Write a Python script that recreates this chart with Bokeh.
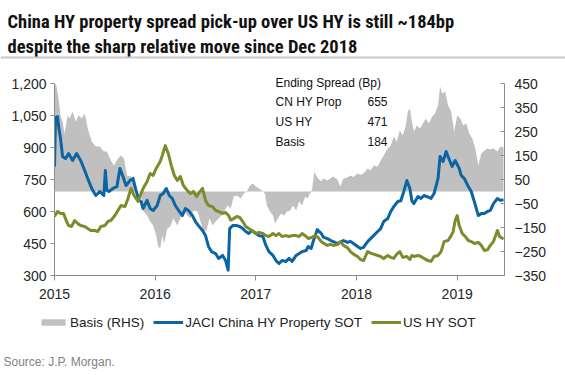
import glob
import os
import subprocess

from bokeh.plotting import figure
from bokeh.layouts import column
from bokeh.models import (Range1d, LinearAxis, FixedTicker, NumeralTickFormatter,
                          Legend, LegendItem, ColumnDataSource)
from bokeh.core.properties import value
from bokeh.embed import file_html
from bokeh.resources import INLINE

# ---------------- data ----------------
cn_t = [2015.00, 2015.01, 2015.03, 2015.045, 2015.06, 2015.08, 2015.11, 2015.14, 2015.18, 2015.22,
        2015.26, 2015.30, 2015.33, 2015.37, 2015.41, 2015.45, 2015.49, 2015.505, 2015.52, 2015.54,
        2015.58, 2015.62, 2015.65, 2015.68, 2015.71, 2015.75, 2015.78, 2015.81, 2015.84, 2015.86,
        2015.88, 2015.92, 2015.95, 2015.98, 2016.02, 2016.05, 2016.08, 2016.11, 2016.14, 2016.17,
        2016.20, 2016.24, 2016.27, 2016.30, 2016.33, 2016.37, 2016.40, 2016.43, 2016.47, 2016.50,
        2016.53, 2016.56, 2016.60, 2016.63, 2016.67, 2016.70, 2016.725, 2016.74, 2016.77, 2016.81,
        2016.84, 2016.87, 2016.90, 2016.93, 2016.96, 2017.00, 2017.03, 2017.07, 2017.10, 2017.13,
        2017.17, 2017.20, 2017.23, 2017.26, 2017.30, 2017.33, 2017.36, 2017.40, 2017.43, 2017.46,
        2017.50, 2017.52, 2017.55, 2017.57, 2017.59, 2017.61, 2017.63, 2017.65, 2017.67, 2017.71,
        2017.74, 2017.77, 2017.81, 2017.84, 2017.87, 2017.91, 2017.94, 2017.97, 2018.01, 2018.04,
        2018.07, 2018.11, 2018.14, 2018.17, 2018.21, 2018.24, 2018.27, 2018.31, 2018.34, 2018.37,
        2018.41, 2018.44, 2018.47, 2018.50, 2018.53, 2018.55, 2018.57, 2018.61, 2018.64, 2018.67,
        2018.71, 2018.74, 2018.77, 2018.81, 2018.83, 2018.86, 2018.89, 2018.92, 2018.95, 2018.98,
        2019.02, 2019.04, 2019.07, 2019.11, 2019.14, 2019.17, 2019.21, 2019.24, 2019.27, 2019.30,
        2019.33, 2019.36, 2019.40, 2019.43, 2019.46]
cn_v = [810, 1040, 1045, 985, 942, 858, 848, 872, 839, 872,
        839, 792, 755, 708, 675, 694, 675, 792, 700, 694,
        708, 717, 802, 764, 722, 745, 755, 698, 652, 647,
        614, 652, 614, 605, 628, 675, 684, 708, 675, 661,
        628, 600, 581, 614, 605, 581, 553, 534, 511, 487,
        436, 412, 403, 380, 394, 370, 325, 520, 534, 534,
        530, 520, 506, 497, 511, 497, 487, 483, 441, 412,
        394, 370, 356, 370, 366, 380, 366, 394, 403, 412,
        417, 436, 427, 460, 487, 515, 505, 497, 480, 473,
        465, 459, 450, 455, 464, 455, 460, 450, 436, 427,
        432, 459, 473, 487, 506, 520, 553, 567, 600, 623,
        647, 650, 694, 745, 708, 650, 637, 670, 661, 675,
        668, 661, 684, 755, 858, 834, 881, 845, 811, 839,
        802, 769, 755, 717, 694, 647, 581, 591, 591, 600,
        605, 637, 661, 652, 655]

us_t = [2015.00, 2015.03, 2015.06, 2015.09, 2015.12, 2015.14, 2015.17, 2015.20, 2015.23, 2015.26,
        2015.30, 2015.33, 2015.36, 2015.40, 2015.43, 2015.46, 2015.50, 2015.53, 2015.56, 2015.60,
        2015.63, 2015.66, 2015.70, 2015.73, 2015.76, 2015.79, 2015.83, 2015.85, 2015.88, 2015.92,
        2015.95, 2015.98, 2016.01, 2016.05, 2016.07, 2016.10, 2016.13, 2016.16, 2016.19, 2016.22,
        2016.25, 2016.28, 2016.32, 2016.35, 2016.38, 2016.41, 2016.44, 2016.47, 2016.50, 2016.53,
        2016.57, 2016.60, 2016.63, 2016.67, 2016.70, 2016.73, 2016.75, 2016.78, 2016.81, 2016.84,
        2016.87, 2016.90, 2016.93, 2016.96, 2017.00, 2017.03, 2017.07, 2017.10, 2017.13, 2017.17,
        2017.20, 2017.23, 2017.26, 2017.30, 2017.33, 2017.36, 2017.40, 2017.43, 2017.46, 2017.50,
        2017.52, 2017.55, 2017.59, 2017.62, 2017.65, 2017.67, 2017.71, 2017.74, 2017.77, 2017.81,
        2017.84, 2017.87, 2017.91, 2017.94, 2017.97, 2018.01, 2018.04, 2018.07, 2018.11, 2018.14,
        2018.17, 2018.21, 2018.24, 2018.27, 2018.31, 2018.34, 2018.37, 2018.40, 2018.43, 2018.46,
        2018.50, 2018.53, 2018.55, 2018.57, 2018.61, 2018.64, 2018.67, 2018.71, 2018.74, 2018.77,
        2018.81, 2018.84, 2018.87, 2018.91, 2018.94, 2018.96, 2018.98, 2019.00, 2019.02, 2019.05,
        2019.08, 2019.11, 2019.14, 2019.17, 2019.21, 2019.24, 2019.27, 2019.30, 2019.33, 2019.36,
        2019.40, 2019.42, 2019.46]
us_v = [577, 600, 591, 591, 553, 534, 530, 558, 544, 534,
        530, 520, 511, 511, 506, 530, 534, 553, 558, 581,
        605, 628, 623, 661, 708, 675, 647, 672, 708, 741,
        778, 769, 802, 834, 862, 909, 872, 816, 769, 745,
        764, 722, 698, 684, 694, 670, 691, 708, 652, 628,
        623, 605, 600, 591, 595, 581, 560, 567, 577, 572,
        553, 530, 520, 511, 497, 502, 497, 487, 483, 497,
        487, 497, 483, 487, 483, 487, 487, 483, 497, 483,
        473, 478, 487, 478, 459, 452, 441, 446, 441, 445,
        459, 441, 430, 412, 400, 389, 375, 370, 412, 405,
        400, 394, 389, 380, 394, 385, 380, 400, 412, 385,
        389, 375, 394, 389, 394, 389, 380, 370, 366, 389,
        394, 412, 459, 464, 487, 506, 558, 581, 534, 497,
        483, 464, 459, 450, 455, 441, 417, 420, 441, 459,
        511, 483, 471]

basis_t = [2015.00, 2015.005, 2015.02, 2015.04, 2015.06, 2015.08, 2015.10, 2015.13, 2015.15, 2015.18,
           2015.21, 2015.24, 2015.27, 2015.30, 2015.33, 2015.37, 2015.41, 2015.45, 2015.49, 2015.52,
           2015.56, 2015.59, 2015.63, 2015.66, 2015.69, 2015.72, 2015.76, 2015.80, 2015.84, 2015.86,
           2015.88, 2015.92, 2015.95, 2015.98, 2016.01, 2016.03, 2016.05, 2016.07, 2016.09, 2016.12,
           2016.15, 2016.18, 2016.22, 2016.25, 2016.28, 2016.32, 2016.35, 2016.38, 2016.42, 2016.45,
           2016.48, 2016.51, 2016.54, 2016.57, 2016.60, 2016.63, 2016.66, 2016.69, 2016.72, 2016.75,
           2016.78, 2016.81, 2016.85, 2016.88, 2016.91, 2016.94, 2016.97, 2017.00, 2017.03, 2017.06,
           2017.09, 2017.11, 2017.14, 2017.17, 2017.19, 2017.22, 2017.25, 2017.28, 2017.31, 2017.34,
           2017.37, 2017.40, 2017.43, 2017.46, 2017.49, 2017.51, 2017.54, 2017.56, 2017.58, 2017.60,
           2017.62, 2017.65, 2017.67, 2017.71, 2017.74, 2017.77, 2017.81, 2017.84, 2017.87, 2017.91,
           2017.94, 2017.97, 2018.01, 2018.04, 2018.07, 2018.11, 2018.14, 2018.17, 2018.21, 2018.24,
           2018.27, 2018.31, 2018.34, 2018.37, 2018.40, 2018.43, 2018.46, 2018.49, 2018.51, 2018.53,
           2018.55, 2018.57, 2018.60, 2018.63, 2018.66, 2018.69, 2018.72, 2018.75, 2018.78, 2018.81,
           2018.83, 2018.85, 2018.88, 2018.91, 2018.94, 2018.97, 2019.00, 2019.03, 2019.06, 2019.09,
           2019.12, 2019.15, 2019.18, 2019.21, 2019.24, 2019.27, 2019.30, 2019.33, 2019.36, 2019.40,
           2019.43, 2019.46]
basis_v = [300, 450, 440, 388, 317, 292, 242, 317, 304, 333,
           292, 317, 304, 325, 263, 208, 188, 188, 167, 167,
           129, 108, 138, 150, 138, 67, 63, 13, 0, -17,
           -79, -100, -125, -142, -183, -229, -237, -183, -217, -154,
           -146, -112, -142, -112, -79, -100, -112, -79, -83, -125,
           -167, -162, -112, -142, -125, -112, -100, -79, -58, -71,
           -21, -17, -29, -8, 0, 25, 33, 21, 13, 4,
           -8, -58, -83, -100, -133, -112, -92, -100, -83, -79,
           -58, -79, -42, -58, -21, -29, -8, 13, 83, 67,
           54, 42, 54, 46, 54, 63, 50, 21, 54, 58,
           67, 60, 75, 70, 75, 96, 88, 108, 104, 129,
           150, 179, 192, 229, 208, 254, 233, 275, 333, 346,
           292, 250, 275, 263, 283, 304, 283, 313, 325, 358,
           438, 408, 417, 358, 333, 250, 317, 304, 275, 283,
           242, 221, 179, 108, 158, 171, 179, 175, 179, 167,
           188, 184]

year_ticks = [2015, 2016, 2017, 2018, 2019]
lhs_ticks = [300, 450, 600, 750, 900, 1050, 1200]
rhs_ticks = [-350, -250, -150, -50, 50, 150, 250, 350, 450]

title_lines = ["China HY property spread pick-up over US HY is still ~184bp",
               "despite the sharp relative move since Dec 2018"]
table_head = "Ending Spread (Bp)"
table_names = ["CN HY Prop", "US HY", "Basis"]
table_vals = ["655", "471", "184"]
series_names = ["Basis (RHS)", "JACI China HY Property SOT", "US HY SOT"]
source_text = "Source: J.P. Morgan."

# ---------------- fonts ----------------
def _installed_families():
    fams = set()
    try:
        out = subprocess.run(["fc-list", ":", "family"], capture_output=True, text=True,
                             timeout=10).stdout
        for ln in out.splitlines():
            for f in ln.split(","):
                fams.add(f.strip().lower())
    except Exception:
        pass
    return fams


def _has_file(pattern):
    for d in ("/usr/share/fonts", "/usr/local/share/fonts",
              os.path.expanduser("~/.fonts"), os.path.expanduser("~/.local/share/fonts")):
        if glob.glob(os.path.join(d, "**", pattern), recursive=True):
            return True
    return False


_fams = _installed_families()
TITLE_FONT, TITLE_SIZE = "Liberation Sans", "16.3px"
for fam, pat, size in (("Liberation Sans Narrow", "LiberationSansNarrow-Bold*", "19.5px"),
                       ("Arial Narrow", "ArialNarrow*Bold*", "19.5px"),
                       ("Roboto Condensed", "RobotoCondensed-Bold*", "18.5px")):
    if fam.lower() in _fams or _has_file(pat):
        TITLE_FONT, TITLE_SIZE = fam, size
        break

# ---------------- styling / layout ----------------
W = 565
TITLE_H = 60          # title strip: canvas y 0..60
MAIN_H = 245          # chart: canvas y 60..305
FOOT_H = 70           # legend + source: canvas y 305..375
FL, FR = 54, 504      # frame left / right (canvas px)
FB = 275              # frame bottom (canvas px); frame top = 60
PX_PER_LHS = 192 / 900.0   # 1,200 sits at canvas y 83
PX_PER_RHS = 192 / 800.0
X0, X1 = 2015.0, 2019.47
Y0, YTOP = 300, 300 + (FB - TITLE_H) / PX_PER_LHS
R0, RTOP = -350, -350 + (FB - TITLE_H) / PX_PER_RHS
BLUE = "#0B64A3"
OLIVE = "#7E8B2C"
GRAY = "#C0C0C0"
AXIS = "#8C8C8C"
FONT = "Liberation Sans"


def dx(px):
    return X0 + (px - FL) / (FR - FL) * (X1 - X0)


def dy(py):
    return Y0 + (FB - py) / PX_PER_LHS


# ---- title strip (pixel coordinates, y down) ----
pt = figure(width=W, height=TITLE_H, output_backend="svg", toolbar_location=None, title=None,
            x_range=Range1d(0, W), y_range=Range1d(TITLE_H, 0),
            min_border=0, x_axis_type=None, y_axis_type=None, frame_align=False)
pt.outline_line_color = None
pt.xgrid.visible = False
pt.ygrid.visible = False
pt.text(x=[7, 7], y=[21, 46], text=title_lines, text_font=value(TITLE_FONT),
        text_font_size=TITLE_SIZE, text_font_style="bold", text_color="#111111",
        text_baseline="alphabetic")
pt.segment(x0=[0], y0=[57], x1=[W], y1=[57], line_color="#C8C8C8", line_width=2)

# ---- main chart ----
p = figure(width=W, height=MAIN_H, output_backend="svg", toolbar_location=None, title=None,
           x_range=Range1d(X0, X1), y_range=Range1d(Y0, YTOP),
           min_border_left=FL, min_border_right=W - FR,
           min_border_top=0, min_border_bottom=TITLE_H + MAIN_H - FB, frame_align=False)
p.outline_line_color = None
p.xgrid.visible = False
p.ygrid.visible = False
p.extra_y_ranges = {"rhs": Range1d(R0, RTOP)}

r_b = p.varea(x=basis_t, y1=0, y2=basis_v, y_range_name="rhs", fill_color=GRAY)
r_cn = p.line(cn_t, cn_v, line_color=BLUE, line_width=3, line_join="round")
r_us = p.line(us_t, us_v, line_color=OLIVE, line_width=3, line_join="round")

xa = p.xaxis[0]
xa.ticker = FixedTicker(ticks=year_ticks)
xa.major_tick_out = 5
xa.major_tick_in = 0
xa.major_label_standoff = 8

ya = p.yaxis[0]
ya.ticker = FixedTicker(ticks=lhs_ticks)
ya.formatter = NumeralTickFormatter(format="0,0")
ya.bounds = (lhs_ticks[0], lhs_ticks[-1])
ya.major_tick_out = 4
ya.major_tick_in = 0
ya.major_label_standoff = 4

ra = LinearAxis(y_range_name="rhs", ticker=FixedTicker(ticks=rhs_ticks),
                bounds=(rhs_ticks[0], rhs_ticks[-1]))
ra.major_tick_out = 0
ra.major_tick_in = 4
ra.major_label_standoff = 10
p.add_layout(ra, "right")

for ax in (xa, ya, ra):
    ax.minor_tick_line_color = None
    ax.axis_line_color = AXIS
    ax.major_tick_line_color = AXIS
    ax.major_label_text_font = FONT
    ax.major_label_text_font_size = "14px"
    ax.major_label_text_color = "#262626"

# ending-spread table (inside the frame)
p.text(x=[dx(275)] * 4, y=[dy(82), dy(101), dy(121), dy(141)],
       text=[table_head] + table_names, text_font=value(FONT), text_font_size="12px",
       text_color="#111111", text_baseline="alphabetic")
p.text(x=[dx(387)] * 3, y=[dy(101), dy(121), dy(141)], text=table_vals,
       text_font=value(FONT), text_font_size="12px", text_color="#111111",
       text_baseline="alphabetic", text_align="right")

# ---- footer: legend + source (pixel coordinates, y down) ----
pf = figure(width=W, height=FOOT_H, output_backend="svg", toolbar_location=None, title=None,
            x_range=Range1d(0, W), y_range=Range1d(FOOT_H, 0),
            min_border=0, x_axis_type=None, y_axis_type=None, frame_align=False)
pf.outline_line_color = None
pf.xgrid.visible = False
pf.ygrid.visible = False
# legend-only renderers: one point each, placed off the canvas so nothing is drawn
off = ColumnDataSource(data=dict(x=[-1000], y=[-1000], y1=[-1000], y2=[-1000]))
lb = pf.varea(x="x", y1="y1", y2="y2", source=off, fill_color=GRAY)
lc = pf.line(x="x", y="y", source=off, line_color=BLUE, line_width=3)
lu = pf.line(x="x", y="y", source=off, line_color=OLIVE, line_width=3)
leg = Legend(items=[LegendItem(label=series_names[0], renderers=[lb]),
                    LegendItem(label=series_names[1], renderers=[lc]),
                    LegendItem(label=series_names[2], renderers=[lu])],
             orientation="horizontal", location=(38, FOOT_H - 25),
             label_text_font=FONT, label_text_font_size="13.5px", label_text_color="#222222",
             glyph_width=30, glyph_height=8, label_height=16, label_standoff=2, spacing=9,
             padding=0, margin=0, border_line_color=None, background_fill_alpha=0)
pf.add_layout(leg, "center")
pf.text(x=[3], y=[361 - 305], text=[source_text], text_font=value(FONT),
        text_font_size="12px", text_color="#7F7F7F", text_baseline="alphabetic")

layout = column(pt, p, pf, spacing=0)
open("out.html", "w").write(file_html(layout, INLINE))
